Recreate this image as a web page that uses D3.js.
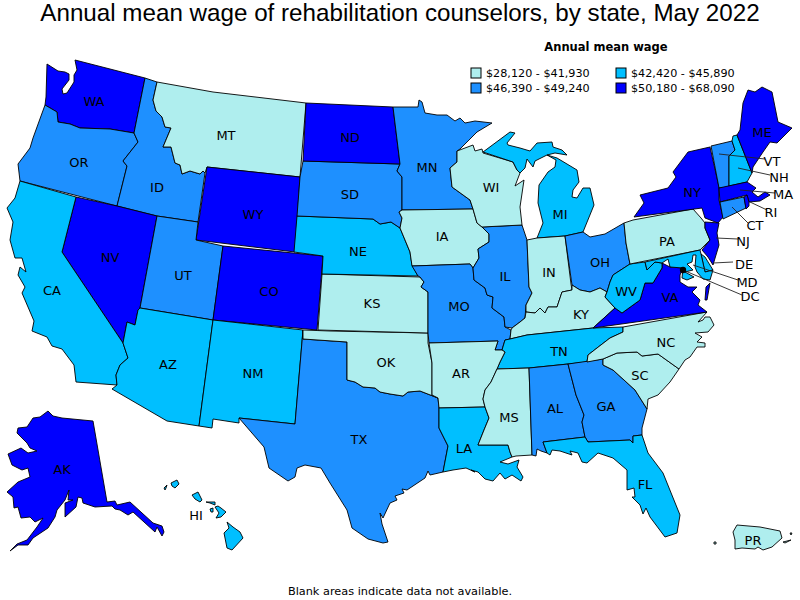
<!DOCTYPE html>
<html>
<head>
<meta charset="utf-8">
<script src="https://cdn.jsdelivr.net/npm/d3@7"></script>
<style>
  html, body { margin: 0; padding: 0; background: #fff; }
  svg { display: block; }
  text { font-family: "DejaVu Sans", sans-serif; fill: #000; }
  .title { font-family: "Liberation Sans", Arial, sans-serif; font-size: 24.2px; }
  .state-label { font-size: 13px; }
  .legend-label { font-size: 11.2px; }
  .legend-title { font-size: 11.5px; font-weight: bold; }
  .footnote { font-size: 11.3px; }
</style>
</head>
<body>
<svg id="board" width="800" height="600"></svg>
<script>
const titleText = 'Annual mean wage of rehabilitation counselors, by state, May 2022';
const legendTitle = 'Annual mean wage';
const footnote = 'Blank areas indicate data not available.';

const wageBins = ['$28,120 - $41,930', '$42,420 - $45,890', '$46,390 - $49,240', '$50,180 - $68,090'];
const binColors = ['#afeeee', '#00bfff', '#1e90ff', '#0000ff'];

const bin0States = ['MT', 'WI', 'IA', 'KS', 'OK', 'AR', 'MS', 'IN', 'KY', 'PA', 'NC', 'SC', 'PR'];
const bin1States = ['CA', 'AZ', 'NM', 'NE', 'MI', 'TN', 'LA', 'FL', 'WV', 'NH', 'MD', 'DE', 'HI'];
const bin2States = ['OR', 'ID', 'UT', 'SD', 'MN', 'IL', 'MO', 'TX', 'AL', 'GA', 'OH', 'VT', 'CT'];
const bin3States = ['WA', 'NV', 'WY', 'CO', 'ND', 'NY', 'ME', 'MA', 'RI', 'NJ', 'VA', 'AK'];
const statesByBin = [bin0States, bin1States, bin2States, bin3States];

// Outlines, in plane coordinates (no projection needed).
// A state with several rings has one list per island.
const stateRings = {
  WA: [[[47,64],[58,71],[65,72],[69,74],[69,80],[62,89],[63,94],[67,93],[74,82],[74,75],[77,70],[75,60],[145,78],[134,133],[110,129],[80,128],[70,124],[58,122],[57,112],[45,105],[46,97]]],
  OR: [[[45,105],[57,112],[58,122],[70,124],[80,128],[110,129],[134,133],[138,142],[123,161],[127,166],[117,206],[20,181],[18,164],[30,148],[33,138]]],
  ID: [[[145,78],[157,82],[153,100],[156,111],[162,117],[165,127],[171,128],[163,147],[171,147],[175,163],[180,165],[182,174],[190,171],[200,174],[203,171],[205,173],[198,222],[157,216],[117,206],[127,166],[123,161],[138,142],[134,133]]],
  MT: [[[157,82],[213,92],[306,103],[300,177],[207,167],[205,173],[203,171],[200,174],[190,171],[182,174],[180,165],[175,163],[171,147],[163,147],[171,128],[165,127],[162,117],[156,111],[153,100]]],
  WY: [[[207,167],[300,177],[295,252],[196,240]]],
  NV: [[[76,197],[117,206],[157,216],[140,308],[138,310],[135,325],[127,322],[123,343],[62,252]]],
  CA: [[[20,181],[76,197],[62,252],[123,343],[128,358],[120,365],[116,375],[117,385],[76,382],[74,365],[62,349],[52,346],[47,337],[32,331],[34,321],[22,293],[25,287],[18,275],[20,267],[26,272],[22,258],[15,258],[10,240],[13,222],[7,208],[15,198]]],
  UT: [[[157,216],[198,222],[196,240],[223,246],[213,320],[140,308]]],
  CO: [[[223,246],[323,256],[317,330],[213,320]]],
  AZ: [[[140,308],[213,320],[199,426],[167,421],[112,389],[117,385],[116,375],[120,365],[128,358],[123,343],[127,322],[135,325],[138,310]]],
  NM: [[[213,320],[303,330],[295,424],[239,418],[239,423],[213,419],[212,428],[199,426]]],
  TX: [[[303,330],[303,339],[347,342],[347,380],[355,382],[363,387],[375,388],[380,392],[390,394],[403,396],[408,392],[420,391],[438,398],[439,408],[439,428],[448,446],[443,472],[430,475],[428,471],[425,478],[407,490],[402,489],[404,493],[395,496],[397,500],[390,503],[383,518],[380,513],[382,524],[388,542],[383,543],[368,539],[352,528],[347,510],[330,483],[321,468],[305,465],[297,468],[295,477],[288,481],[269,468],[264,447],[239,418],[295,424]]],
  OK: [[[303,330],[330,331],[428,333],[428,343],[432,363],[432,395],[438,398],[420,391],[408,392],[403,396],[390,394],[380,392],[375,388],[363,387],[355,382],[347,380],[347,342],[303,339]]],
  KS: [[[322,274],[420,277],[424,282],[421,287],[428,292],[428,333],[318,330]]],
  NE: [[[297,216],[373,219],[380,224],[391,222],[400,228],[405,240],[410,252],[412,265],[418,276],[322,274],[323,256],[294,252]]],
  SD: [[[303,161],[400,164],[397,171],[402,177],[402,210],[399,212],[402,218],[400,228],[391,222],[380,224],[373,219],[297,216],[300,177]]],
  ND: [[[306,103],[393,107],[400,164],[303,161]]],
  MN: [[[393,107],[418,107],[419,100],[422,102],[425,113],[437,115],[447,115],[455,121],[460,118],[465,123],[475,121],[492,123],[477,132],[460,149],[457,151],[457,162],[450,168],[452,187],[470,200],[473,209],[402,210],[402,177],[397,171],[400,164]]],
  IA: [[[402,210],[473,209],[477,223],[482,227],[489,234],[489,242],[478,249],[479,258],[473,268],[470,264],[412,266],[410,252],[405,240],[400,228],[402,218],[399,212]]],
  MO: [[[412,266],[470,264],[473,268],[474,280],[485,288],[487,295],[493,297],[492,308],[504,317],[505,327],[511,330],[510,339],[505,340],[502,350],[495,350],[498,341],[429,343],[428,333],[428,292],[421,287],[424,282],[420,277],[418,276]]],
  IL: [[[482,227],[522,225],[527,240],[529,287],[532,293],[526,305],[525,318],[520,322],[512,328],[505,327],[504,317],[492,308],[493,297],[487,295],[485,288],[474,280],[473,268],[479,258],[478,249],[489,242],[489,234]]],
  WI: [[[457,151],[473,145],[475,151],[482,149],[483,153],[513,162],[517,170],[520,173],[515,186],[524,180],[520,207],[522,225],[482,227],[477,223],[473,209],[470,200],[452,187],[450,168],[457,162]]],
  MI: [
    [[483,152],[510,132],[515,133],[507,143],[508,145],[520,148],[530,151],[537,143],[552,142],[553,147],[562,150],[567,155],[555,153],[547,155],[535,161],[533,167],[527,159],[525,168],[520,173],[517,170],[513,162]],
    [[547,155],[557,158],[577,170],[579,182],[573,190],[572,197],[577,198],[583,188],[590,188],[594,205],[583,232],[565,236],[537,238],[543,223],[538,203],[539,185],[548,172],[555,167],[556,160]]
  ],
  IN: [[[527,240],[537,238],[565,236],[571,284],[572,290],[562,292],[557,307],[548,307],[545,313],[540,308],[535,313],[526,312],[526,305],[532,293],[529,287]]],
  OH: [[[565,236],[583,232],[590,237],[605,234],[624,223],[626,243],[630,264],[613,275],[610,282],[607,292],[600,288],[590,292],[580,290],[572,285]]],
  KY: [[[526,312],[535,313],[540,308],[545,313],[548,307],[557,307],[562,292],[572,290],[572,285],[580,290],[590,292],[600,288],[607,292],[605,297],[615,308],[593,328],[527,335],[510,339],[511,330],[512,328],[520,322],[525,318]]],
  TN: [[[505,340],[510,339],[527,335],[593,328],[623,327],[623,332],[610,338],[597,348],[588,355],[587,362],[568,364],[529,368],[497,369],[500,362],[505,352],[502,350]]],
  AR: [[[429,343],[498,341],[495,350],[502,350],[505,352],[500,362],[497,369],[491,382],[485,390],[483,399],[485,407],[439,408],[438,398],[432,395],[432,363]]],
  LA: [[[439,408],[485,407],[489,418],[484,430],[478,445],[508,445],[510,452],[512,457],[500,462],[508,464],[519,460],[517,467],[523,477],[521,481],[512,475],[505,479],[500,473],[493,481],[485,479],[478,472],[471,470],[475,472],[466,468],[453,470],[443,472],[448,446],[439,428]]],
  MS: [[[497,369],[529,368],[532,455],[516,456],[512,457],[510,452],[508,445],[478,445],[484,430],[489,418],[485,407],[483,399],[485,390],[491,382]]],
  AL: [[[529,368],[568,364],[576,395],[584,415],[582,422],[585,437],[543,442],[547,453],[541,451],[537,449],[536,456],[532,455]]],
  GA: [[[568,364],[603,359],[603,365],[613,370],[635,390],[647,409],[642,428],[642,435],[633,436],[633,443],[630,440],[588,442],[585,437],[582,422],[584,415],[576,395]]],
  FL: [[[543,442],[585,437],[588,442],[630,440],[633,443],[633,436],[642,435],[648,453],[663,473],[680,515],[677,533],[665,537],[650,517],[646,508],[643,514],[640,505],[632,497],[635,497],[634,488],[627,490],[627,470],[613,458],[598,453],[587,463],[582,462],[578,453],[570,451],[572,455],[560,451],[552,450],[550,455],[547,453]]],
  SC: [[[603,359],[617,353],[637,352],[642,356],[658,354],[679,369],[670,382],[658,395],[648,399],[647,409],[635,390],[613,370],[603,365]]],
  NC: [[[588,355],[597,348],[610,338],[623,332],[623,327],[707,312],[698,322],[703,320],[705,317],[710,317],[714,325],[708,332],[695,333],[702,337],[697,342],[705,343],[705,347],[697,347],[690,357],[685,360],[679,369],[658,354],[642,356],[637,352],[617,353],[603,359],[587,362]]],
  VA: [
    [[593,328],[615,308],[622,313],[640,300],[645,283],[653,283],[662,268],[662,263],[670,267],[683,268],[680,275],[680,282],[688,287],[697,287],[692,292],[700,300],[698,305],[707,312]],
    [[710,283],[707,300],[705,300],[706,287]]
  ],
  WV: [[[630,264],[645,262],[647,270],[655,262],[662,263],[662,268],[653,283],[645,283],[640,300],[622,313],[615,308],[605,297],[607,292],[610,282],[613,275]]],
  PA: [[[624,223],[633,220],[693,209],[701,218],[705,223],[705,228],[710,240],[700,250],[630,264],[626,243]]],
  NY: [[[710,147],[688,152],[673,172],[676,177],[668,188],[640,195],[644,203],[634,217],[702,208],[705,218],[718,223],[723,217],[719,200],[719,187]]],
  VT: [[[711,146],[732,141],[735,150],[729,156],[729,187],[719,188]]],
  NH: [[[733,136],[737,135],[752,173],[747,182],[729,186],[729,156],[735,150],[732,141]]],
  ME: [[[737,135],[740,130],[743,103],[748,90],[755,92],[762,87],[772,92],[778,122],[792,128],[787,133],[777,143],[770,142],[763,152],[753,167],[752,173]]],
  MA: [[[719,188],[747,182],[756,188],[752,192],[758,197],[765,192],[770,195],[760,201],[749,202],[747,195],[720,202]]],
  CT: [[[720,202],[744,197],[746,208],[723,219]]],
  RI: [[[744,197],[747,195],[749,202],[749,206],[746,209]]],
  NJ: [[[705,222],[719,223],[717,233],[719,245],[713,265],[708,257],[702,250],[710,240],[705,228]]],
  DE: [[[701,254],[705,257],[713,270],[705,272]]],
  MD: [[[645,262],[700,250],[701,254],[705,272],[713,270],[710,280],[703,279],[697,272],[695,267],[696,255],[693,255],[692,262],[687,264],[693,270],[685,272],[694,277],[687,280],[682,278],[683,268],[670,267],[668,259],[662,263],[655,262],[647,270]]],
  AK: [[[48,411],[53,416],[62,418],[93,421],[107,502],[115,501],[117,505],[130,502],[153,523],[162,526],[164,532],[162,536],[157,527],[155,532],[133,512],[128,515],[120,510],[115,509],[112,506],[95,507],[83,503],[82,498],[78,497],[76,507],[65,517],[65,503],[73,500],[68,500],[69,490],[65,500],[57,510],[55,517],[48,528],[33,538],[28,545],[18,545],[10,551],[17,544],[27,540],[37,527],[43,518],[35,522],[30,517],[21,518],[18,507],[14,508],[13,497],[7,492],[18,482],[30,477],[28,468],[22,470],[12,465],[8,454],[21,448],[28,453],[37,451],[30,448],[27,443],[17,433],[18,428],[27,427],[33,418],[40,417]]],
  HI: [
    [[171,483],[177,480],[179,484],[175,488],[172,486]],
    [[164,488],[167,485],[166,488],[165,490]],
    [[192,495],[198,492],[202,500],[200,502],[195,499]],
    [[206,502],[215,502],[215,505],[210,503]],
    [[210,509],[213,508],[213,512],[211,512]],
    [[215,507],[218,506],[221,508],[226,512],[221,517],[216,518],[219,513]],
    [[227,522],[233,527],[240,532],[243,538],[232,550],[227,548],[224,533],[229,528]]
  ],
  PR: [
    [[737,525],[760,527],[780,531],[782,538],[772,547],[763,550],[758,547],[755,549],[742,548],[735,549],[735,540],[733,532]],
    [[714,542],[716,542],[716,544],[714,544]],
    [[783,542],[791,540],[785,543]],
    [[790,533],[792,533],[791,535]]
  ]
};

const labelAnchors = {
  WA: [94,101], OR: [79,162], ID: [157,187], MT: [226,135], WY: [253,214], NV: [110,257],
  UT: [183,275], CO: [269,291], CA: [52,290], AZ: [168,364], NM: [253,373], ND: [350,137],
  SD: [350,194], NE: [358,251], KS: [372,303], OK: [386,362], TX: [359,439], MN: [427,167],
  IA: [442,236], MO: [459,306], AR: [461,373], LA: [464,448], WI: [491,187], IL: [505,276],
  IN: [549,272], MI: [560,214], OH: [600,262], KY: [581,314], TN: [559,351], MS: [509,417],
  AL: [555,408], GA: [606,406], FL: [645,484], SC: [640,375], NC: [666,342], VA: [670,297],
  WV: [626,291], PA: [667,241], NY: [692,192], ME: [762,132], VT: [772,161], NH: [779,177],
  MA: [783,194], RI: [771,212], CT: [755,225], NJ: [743,241], DE: [744,264], MD: [747,282],
  DC: [750,296], AK: [62,469], HI: [196,515], PR: [753,540]
};

// Small states get a line from inside the state out to the label.
const leaderStarts = {
  VT: [719,154], NH: [738,168], MA: [740,190], RI: [750,202], CT: [732,207],
  NJ: [716,238], DE: [713,263], MD: [693,265], DC: [683,270]
};
const leaderEnds = {
  VT: [765,159], NH: [770,175], MA: [775,193], RI: [767,210], CT: [748,223],
  NJ: [738,239], DE: [733,262], MD: [738,280], DC: [742,295]
};
const dcPoint = [683,270];

var board = d3.select('#board');
const projection = d3.geoIdentity();
const path = d3.geoPath(projection);

const binByState = new Map();
statesByBin.forEach((codes, bin) => codes.forEach(code => binByState.set(code, bin)));

const color = d3.scaleOrdinal().domain(d3.range(wageBins.length)).range(binColors);

const features = Object.keys(stateRings).map(code => ({
  type: 'Feature',
  id: code,
  geometry: {
    type: 'MultiPolygon',
    coordinates: stateRings[code].map(ring => [ring.concat([ring[0]])])
  }
}));

board.append('text')
  .attr('class', 'title')
  .attr('x', 400)
  .attr('y', 21)
  .attr('text-anchor', 'middle')
  .text(titleText);

board.append('g')
  .selectAll('path')
  .data(features)
  .enter()
  .append('path')
  .attr('d', path)
  .attr('fill', d => color(binByState.get(d.id)))
  .attr('stroke', '#000')
  .attr('stroke-width', 0.9)
  .attr('stroke-linejoin', 'round');

board.append('g')
  .selectAll('line')
  .data(Object.keys(leaderStarts))
  .enter()
  .append('line')
  .attr('x1', d => projection(leaderStarts[d])[0])
  .attr('y1', d => projection(leaderStarts[d])[1])
  .attr('x2', d => projection(leaderEnds[d])[0])
  .attr('y2', d => projection(leaderEnds[d])[1])
  .attr('stroke', '#222')
  .attr('stroke-width', 0.9);

board.append('circle')
  .attr('cx', projection(dcPoint)[0])
  .attr('cy', projection(dcPoint)[1])
  .attr('r', 3.2)
  .attr('fill', '#000');

board.append('g')
  .selectAll('text')
  .data(Object.keys(labelAnchors))
  .enter()
  .append('text')
  .attr('class', 'state-label')
  .attr('x', d => projection(labelAnchors[d])[0])
  .attr('y', d => projection(labelAnchors[d])[1])
  .attr('text-anchor', 'middle')
  .attr('dominant-baseline', 'central')
  .text(d => d);

// Legend: two columns, two rows, read left to right.
const legendX = d3.scalePoint().domain([0, 1]).range([471, 616]);
const legendY = d3.scalePoint().domain([0, 1]).range([73, 88]);

board.append('text')
  .attr('class', 'legend-title')
  .attr('x', 606)
  .attr('y', 51)
  .attr('text-anchor', 'middle')
  .text(legendTitle);

var legendItems = board.append('g')
  .selectAll('g')
  .data(wageBins)
  .enter()
  .append('g')
  .attr('transform', (d, i) => `translate(${legendX(i % 2)},${legendY(Math.floor(i / 2))})`);

legendItems.append('rect')
  .attr('x', 0)
  .attr('y', -5)
  .attr('width', 10)
  .attr('height', 10)
  .attr('fill', (d, i) => color(i))
  .attr('stroke', '#000');

legendItems.append('text')
  .attr('class', 'legend-label')
  .attr('x', 15)
  .attr('dominant-baseline', 'central')
  .text(d => d);

board.append('text')
  .attr('class', 'footnote')
  .attr('x', 400)
  .attr('y', 595)
  .attr('text-anchor', 'middle')
  .text(footnote);
</script>
</body>
</html>
